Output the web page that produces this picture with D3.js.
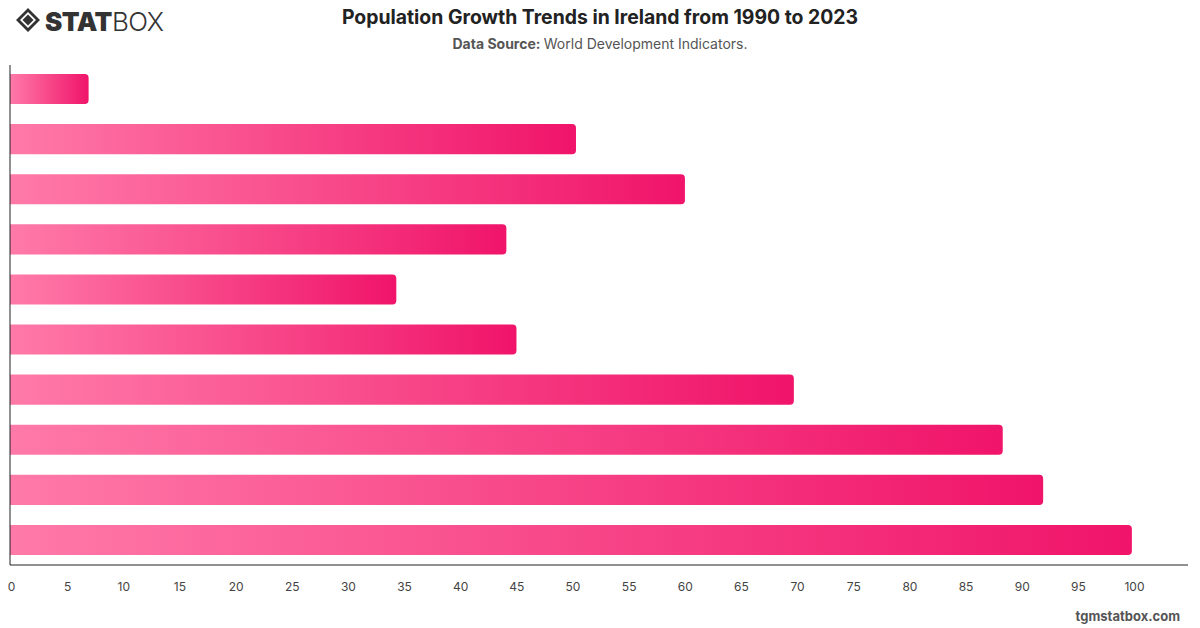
<!DOCTYPE html>
<html>
<head>
<meta charset="utf-8">
<script src="https://cdn.jsdelivr.net/npm/d3@7"></script>
<style>
  body { margin: 0; background: #fff; }
  svg { display: block; font-family: Inter, "Noto Sans", sans-serif; }
</style>
</head>
<body>
<svg id="chart" width="1200" height="628"></svg>
<script>
// categories are not labelled on the chart, kept only as keys
let categories = ['A', 'B', 'C', 'D', 'E', 'F', 'G', 'H', 'I', 'J'];
let values = [7.0, 50.4, 60.1, 44.2, 34.4, 45.1, 69.8, 88.4, 92.0, 99.9];
let ticks = [0, 5, 10, 15, 20, 25, 30, 35, 40, 45, 50, 55, 60, 65, 70, 75, 80, 85, 90, 95, 100];

let svg = d3.select('#chart');
let plotLeft = 10, plotRight = 1188, plotTop = 65, plotBottom = 565;

let x = d3.scaleLinear().domain([0, 100]).range([plotLeft, 1133]);
let y = d3.scaleBand().domain(categories).range([plotTop - 1, plotBottom]).paddingInner(0.4).paddingOuter(0.2);

// gradient per bar (bounding box units)
let defs = svg.append('defs');
let grad = defs.append('linearGradient').attr('id', 'barGrad')
    .attr('x1', '0%').attr('x2', '100%').attr('y1', '0%').attr('y2', '0%');
grad.append('stop').attr('offset', '0%').attr('stop-color', '#ff7aa8');
grad.append('stop').attr('offset', '100%').attr('stop-color', '#f0146a');

// bars with rounded right end only
function barPath(d, i) {
    let x0 = x(0), x1 = x(d), y0 = y(categories[i]), h = y.bandwidth();
    let r = Math.min(4, (x1 - x0) / 2);
    return 'M' + x0 + ',' + y0 +
        'H' + (x1 - r) + 'Q' + x1 + ',' + y0 + ' ' + x1 + ',' + (y0 + r) +
        'V' + (y0 + h - r) + 'Q' + x1 + ',' + (y0 + h) + ' ' + (x1 - r) + ',' + (y0 + h) +
        'H' + x0 + 'Z';
}

svg.append('g')
    .selectAll('path')
    .data(values)
    .join('path')
    .attr('d', barPath)
    .attr('fill', 'url(#barGrad)');

// axes lines
svg.append('line').attr('x1', plotLeft).attr('x2', plotLeft).attr('y1', plotTop).attr('y2', plotBottom)
    .attr('stroke', '#222').attr('stroke-width', 1);
svg.append('line').attr('x1', plotLeft).attr('x2', plotRight).attr('y1', plotBottom).attr('y2', plotBottom)
    .attr('stroke', '#222').attr('stroke-width', 1);

let xAxis = svg.append('g')
    .attr('transform', 'translate(0,' + plotBottom + ')')
    .call(d3.axisBottom(x).tickValues(ticks).tickSize(0).tickPadding(17));
xAxis.select('.domain').remove();
xAxis.selectAll('text')
    .attr('font-family', 'Inter, sans-serif')
    .attr('font-size', 12)
    .attr('fill', '#444')
    .attr('dx', 1);

// title
svg.append('text').attr('x', 600).attr('y', 24).attr('text-anchor', 'middle')
    .attr('font-size', 19.4).attr('font-weight', 700).attr('fill', '#222')
    .text('Population Growth Trends in Ireland from 1990 to 2023');
let sub = svg.append('text').attr('x', 600).attr('y', 49).attr('text-anchor', 'middle')
    .attr('font-size', 14).attr('fill', '#555');
sub.append('tspan').attr('font-weight', 700).text('Data Source: ');
sub.append('tspan').text('World Development Indicators.');

// logo
let logo = svg.append('g').attr('fill', '#333');
logo.append('path')
    .attr('d', 'M28,8 L40,20 L28,32 L16,20 Z M28,12 L20,20 L28,28 L36,20 Z')
    .attr('fill-rule', 'evenodd');
logo.append('path').attr('d', 'M28,14.5 L33.5,20 L28,25.5 L22.5,20 Z');
let lt = logo.append('text').attr('x', 45).attr('y', 31).attr('font-size', 26);
lt.append('tspan').attr('font-weight', 900).attr('letter-spacing', -0.5).text('STAT');
lt.append('tspan').attr('font-weight', 300).attr('letter-spacing', -0.5).text('BOX');

// footer
svg.append('text').attr('x', 1180).attr('y', 621).attr('text-anchor', 'end')
    .attr('font-size', 13).attr('font-weight', 700).attr('fill', '#555')
    .text('tgmstatbox.com');
</script>
</body>
</html>
